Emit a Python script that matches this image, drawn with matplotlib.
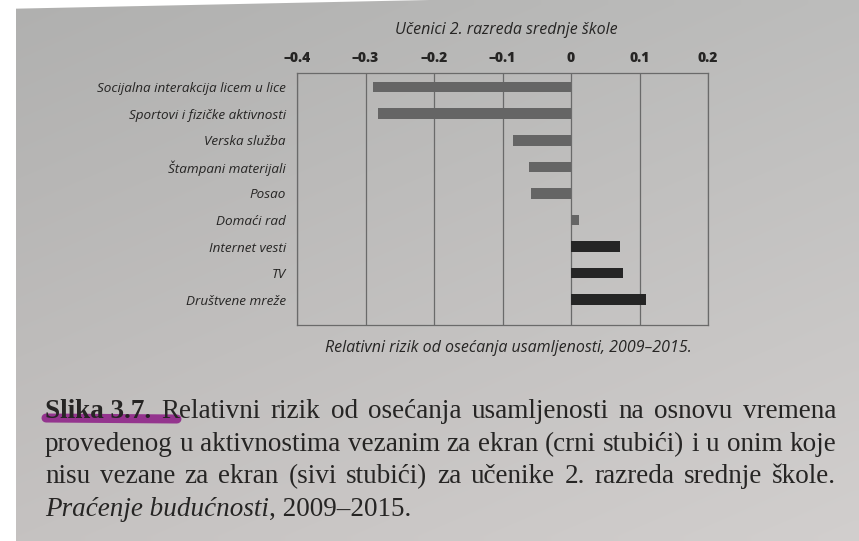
import numpy as np
import matplotlib
matplotlib.use("Agg")
import matplotlib.pyplot as plt
from matplotlib.lines import Line2D
from matplotlib.patches import Polygon

# values
categories = ["Socijalna interakcija licem u lice", "Sportovi i fizičke aktivnosti",
              "Verska služba", "Štampani materijali", "Posao", "Domaći rad",
              "Internet vesti", "TV", "Društvene mreže"]
risk = [-0.289, -0.282, -0.084, -0.062, -0.058, 0.011, 0.071, 0.076, 0.109]
screen = [False, False, False, False, False, False, True, True, True]
xticks = [-0.4, -0.3, -0.2, -0.1, 0, 0.1, 0.2]
xtick_labels = ["–0.4", "–0.3", "–0.2", "–0.1", "0", "0.1", "0.2"]

title = "Učenici 2. razreda srednje škole"
xcaption = "Relativni rizik od osećanja usamljenosti, 2009–2015."
body = [
    [("Slika 3.7.", "bold", "normal"), ("Relativni", "normal", "normal"), ("rizik", "normal", "normal"),
     ("od", "normal", "normal"), ("osećanja", "normal", "normal"), ("usamljenosti", "normal", "normal"),
     ("na", "normal", "normal"), ("osnovu", "normal", "normal"), ("vremena", "normal", "normal")],
    [("provedenog", "normal", "normal"), ("u", "normal", "normal"), ("aktivnostima", "normal", "normal"),
     ("vezanim", "normal", "normal"), ("za", "normal", "normal"), ("ekran", "normal", "normal"),
     ("(crni", "normal", "normal"), ("stubići)", "normal", "normal"), ("i", "normal", "normal"),
     ("u", "normal", "normal"), ("onim", "normal", "normal"), ("koje", "normal", "normal")],
    [("nisu", "normal", "normal"), ("vezane", "normal", "normal"), ("za", "normal", "normal"),
     ("ekran", "normal", "normal"), ("(sivi", "normal", "normal"), ("stubići)", "normal", "normal"),
     ("za", "normal", "normal"), ("učenike", "normal", "normal"), ("2.", "normal", "normal"),
     ("razreda", "normal", "normal"), ("srednje", "normal", "normal"), ("škole.", "normal", "normal")],
    [("Praćenje budućnosti", "normal", "italic"), (", 2009–2015.", "normal", "normal")],
]

W, H = 859, 541
ink = "#262524"
sans = ["Liberation Sans Narrow", "Open Sans", "DejaVu Sans"]
serif = ["Liberation Serif", "DejaVu Serif"]

fig = plt.figure(figsize=(W / 100, H / 100), dpi=100)

# page background: photographed paper, slightly darker at top left
bg = fig.add_axes([0, 0, 1, 1], zorder=-10)
gy, gx = np.mgrid[0:1:60j, 0:1:90j]
shade = 0.69 + 0.07 * gy + 0.05 * gx
bg.imshow(np.dstack([shade + 0.012 * gy, shade, shade - 0.004]), extent=[0, 1, 0, 1],
          aspect="auto", origin="upper", interpolation="bilinear")
bg.add_patch(Polygon([[0, 0], [16 / W, 0], [16 / W, 1], [0, 1]], color="white", lw=0))
bg.add_patch(Polygon([[0, 1], [0.5, 1], [0, 1 - 9 / H]], color="white", lw=0))
bg.set_xlim(0, 1)
bg.set_ylim(0, 1)
bg.axis("off")

ax = fig.add_axes([297 / W, 1 - 325 / H, 411 / W, 252 / H])
ax.patch.set_alpha(0)
ypos = np.arange(len(categories))
colors = ["#252525" if s else "#656565" for s in screen]
ax.barh(ypos, risk, height=0.4, color=colors, zorder=3)
ax.set_xlim(-0.4, 0.2)
ax.set_ylim(len(categories) - 0.05, -0.53)
ax.xaxis.tick_top()
ax.set_xticks(xticks)
ax.set_xticklabels(xtick_labels, fontsize=10, fontweight="heavy", color=ink, family=sans)
ax.tick_params(axis="x", length=0, pad=6)
ax.set_yticks(ypos)
ax.set_yticklabels(categories, fontsize=9.7, style="italic", color=ink, family=sans)
ax.tick_params(axis="y", length=0, pad=8)
ax.grid(axis="x", color="#6a6a6a", lw=0.9, zorder=1)
for sp in ax.spines.values():
    sp.set_color("#6a6a6a")
    sp.set_linewidth(0.9)

fig.text(506 / W, 1 - 30 / H, title, ha="center", va="center", fontsize=11.5,
         style="italic", color=ink, family=sans)
fig.text(508 / W, 1 - 348 / H, xcaption, ha="center", va="center", fontsize=11.5,
         style="italic", color=ink, family=sans)

# caption below the chart, justified like the book page
renderer = fig.canvas.get_renderer()
baselines = [418, 451, 483, 516]
x0, x1 = 45, 836
fs = 19.5
for li, (line, yb) in enumerate(zip(body, baselines)):
    texts = []
    for word, weight, style in line:
        t = fig.text(0, 1 - yb / H, word, fontsize=fs, fontweight=weight, style=style,
                     family=serif, color=ink, va="baseline", ha="left")
        texts.append(t)
    widths = [t.get_window_extent(renderer).width for t in texts]
    last = li == len(body) - 1
    if last:
        gaps = [0.0] * len(texts)
    else:
        gap = (x1 - x0 - sum(widths)) / (len(texts) - 1)
        gaps = [gap] * len(texts)
    x = x0
    for t, w, g in zip(texts, widths, gaps):
        t.set_x(x / W)
        x += w + g

# purple highlighter stroke under "Slika 3.7. R"
fig.add_artist(Line2D([46 / W, 177 / W], [1 - 418 / H, 1 - 419 / H], color="#8c1c86",
                      lw=6.5, alpha=0.85, solid_capstyle="round", zorder=1))

fig.savefig("out.png", dpi=100)
